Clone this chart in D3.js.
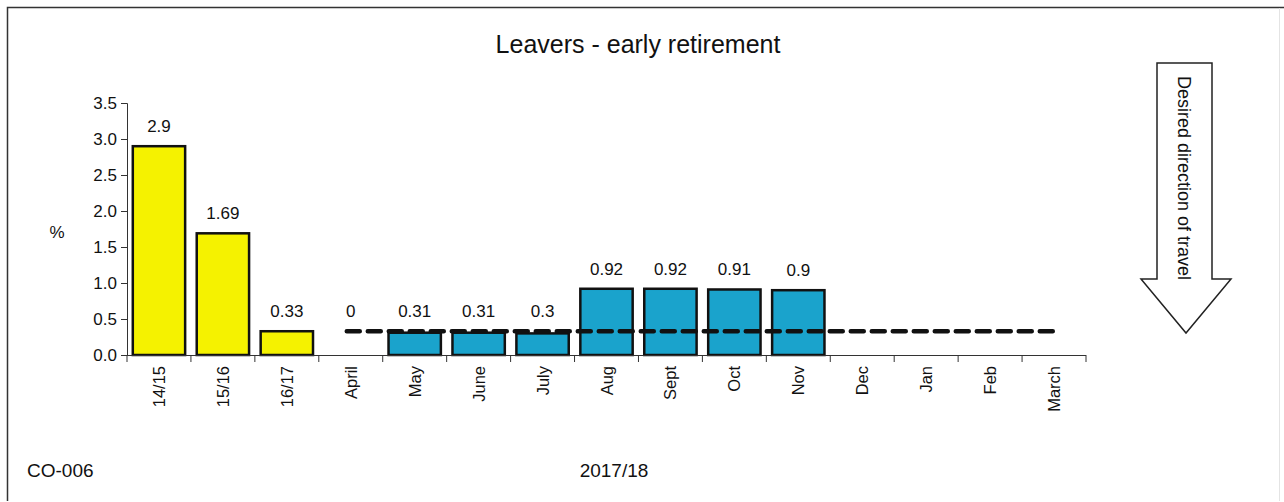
<!DOCTYPE html>
<html>
<head>
<meta charset="utf-8">
<script src="https://cdn.jsdelivr.net/npm/d3@7"></script>
<style>
  body { margin: 0; background: #fff; }
  svg { display: block; font-family: Arial, "Liberation Sans", sans-serif; }
</style>
</head>
<body>
<svg id="chart" width="1284" height="502"></svg>
<script>
// Period labels along the x axis
const categories = ["14/15", "15/16", "16/17", "April", "May", "June", "July",
                    "Aug", "Sept", "Oct", "Nov", "Dec", "Jan", "Feb", "March"];
// Early-retirement leavers (%) per period; null = not yet reported
const values = [2.9, 1.69, 0.33, 0, 0.31, 0.31, 0.3, 0.92, 0.92, 0.91, 0.9,
                null, null, null, null];
// Annual comparison periods are shown in yellow, monthly 2017/18 in blue
const isAnnual = [true, true, true, false, false, false, false, false, false,
                  false, false, false, false, false, false];
// Target level drawn as a dashed line across the 2017/18 months
const targetValue = 0.33;
const targetMonths = ["April", "March"];
const yTicks = [0, 0.5, 1.0, 1.5, 2.0, 2.5, 3.0, 3.5];

const svg = d3.select("#chart");

// Outer frame
svg.append("path")
  .attr("d", "M7.5,501 L7.5,7.5 L1284,7.5")
  .attr("fill", "none").attr("stroke", "#333").attr("stroke-width", 1.5);
svg.append("line")
  .attr("x1", 1279.5).attr("x2", 1279.5).attr("y1", 8).attr("y2", 501)
  .attr("stroke", "#e4e4e4").attr("stroke-width", 1);

const x = d3.scaleBand().domain(categories).range([127, 1086])
  .paddingInner(0.15).paddingOuter(0.075);
const y = d3.scaleLinear().domain([0, 3.5]).range([355, 103]);

// Title
svg.append("text").attr("x", 638).attr("y", 53)
  .attr("text-anchor", "middle").attr("font-size", 25).attr("fill", "#111")
  .text("Leavers - early retirement");

// Bars
const data = categories.map((c, i) => ({ c, v: values[i], annual: isAnnual[i] }));
svg.append("g").selectAll("rect")
  .data(data.filter(d => d.v !== null && d.v > 0))
  .join("rect")
  .attr("x", d => x(d.c) + 1)
  .attr("width", x.bandwidth() - 2)
  .attr("y", d => y(d.v))
  .attr("height", d => y(0) - y(d.v))
  .attr("fill", d => d.annual ? "#f5f200" : "#1aa3cc")
  .attr("stroke", "#111").attr("stroke-width", 2.5);

// Value labels, kept clear of the target line
svg.append("g").selectAll("text")
  .data(data.filter(d => d.v !== null))
  .join("text")
  .attr("x", d => x(d.c) + x.bandwidth() / 2)
  .attr("y", d => Math.min(y(d.v), y(targetValue)) - 14)
  .attr("text-anchor", "middle").attr("font-size", 17).attr("fill", "#111")
  .text(d => String(d.v));

// Target dashed line
const tx0 = x(targetMonths[0]) + x.bandwidth() / 2 - 4;
const tx1 = x(targetMonths[1]) + x.bandwidth() / 2 + 2;
svg.append("line")
  .attr("x1", tx0).attr("x2", tx1)
  .attr("y1", y(targetValue)).attr("y2", y(targetValue))
  .attr("stroke", "#111").attr("stroke-width", 4.5)
  .attr("stroke-dasharray", "13,8").attr("stroke-linecap", "round");

// Y axis
const yAxis = d3.axisLeft(y).tickValues(yTicks).tickFormat(d3.format(".1f"))
  .tickSize(6).tickPadding(4);
const gy = svg.append("g").attr("transform", "translate(127,0)").call(yAxis);
gy.attr("font-size", 17).attr("font-family", "Arial, 'Liberation Sans', sans-serif");
gy.selectAll("text").attr("fill", "#111");
gy.selectAll("line, path").attr("stroke", "#333");

// X axis: boundary ticks between categories
svg.append("line").attr("x1", 121).attr("x2", 1086)
  .attr("y1", y(0) + 0.5).attr("y2", y(0) + 0.5).attr("stroke", "#333");
const bounds = categories.map(c => x(c) - x.step() * x.paddingInner() / 2)
  .concat([1086]);
svg.append("g").selectAll("line").data(bounds).join("line")
  .attr("x1", d => d).attr("x2", d => d)
  .attr("y1", y(0)).attr("y2", y(0) + 7).attr("stroke", "#333");

// Category labels, rotated
svg.append("g").selectAll("text").data(categories).join("text")
  .attr("transform", c => `translate(${x(c) + x.bandwidth() / 2 + 6},366) rotate(-90)`)
  .attr("text-anchor", "end").attr("font-size", 16.5).attr("fill", "#111")
  .text(c => c);

// Axis titles and footers
svg.append("text").attr("x", 57).attr("y", 238).attr("text-anchor", "middle")
  .attr("font-size", 17).attr("fill", "#111").text("%");
svg.append("text").attr("x", 27).attr("y", 477)
  .attr("font-size", 19).attr("fill", "#111").text("CO-006");
svg.append("text").attr("x", 614).attr("y", 477).attr("text-anchor", "middle")
  .attr("font-size", 19).attr("fill", "#111").text("2017/18");

// "Desired direction" arrow
const ax0 = 1157, ax1 = 1212, aTop = 63, aHead = 279, aTip = 333,
      aL = 1141, aR = 1231;
svg.append("path")
  .attr("d", `M${ax0},${aTop} L${ax1},${aTop} L${ax1},${aHead} L${aR},${aHead} ` +
             `L${(aL + aR) / 2},${aTip} L${aL},${aHead} L${ax0},${aHead} Z`)
  .attr("fill", "#fff").attr("stroke", "#222").attr("stroke-width", 1.5);
svg.append("text")
  .attr("transform", `translate(${(ax0 + ax1) / 2 - 7},76) rotate(90)`)
  .attr("font-size", 18).attr("fill", "#111")
  .text("Desired direction of travel");
</script>
</body>
</html>
